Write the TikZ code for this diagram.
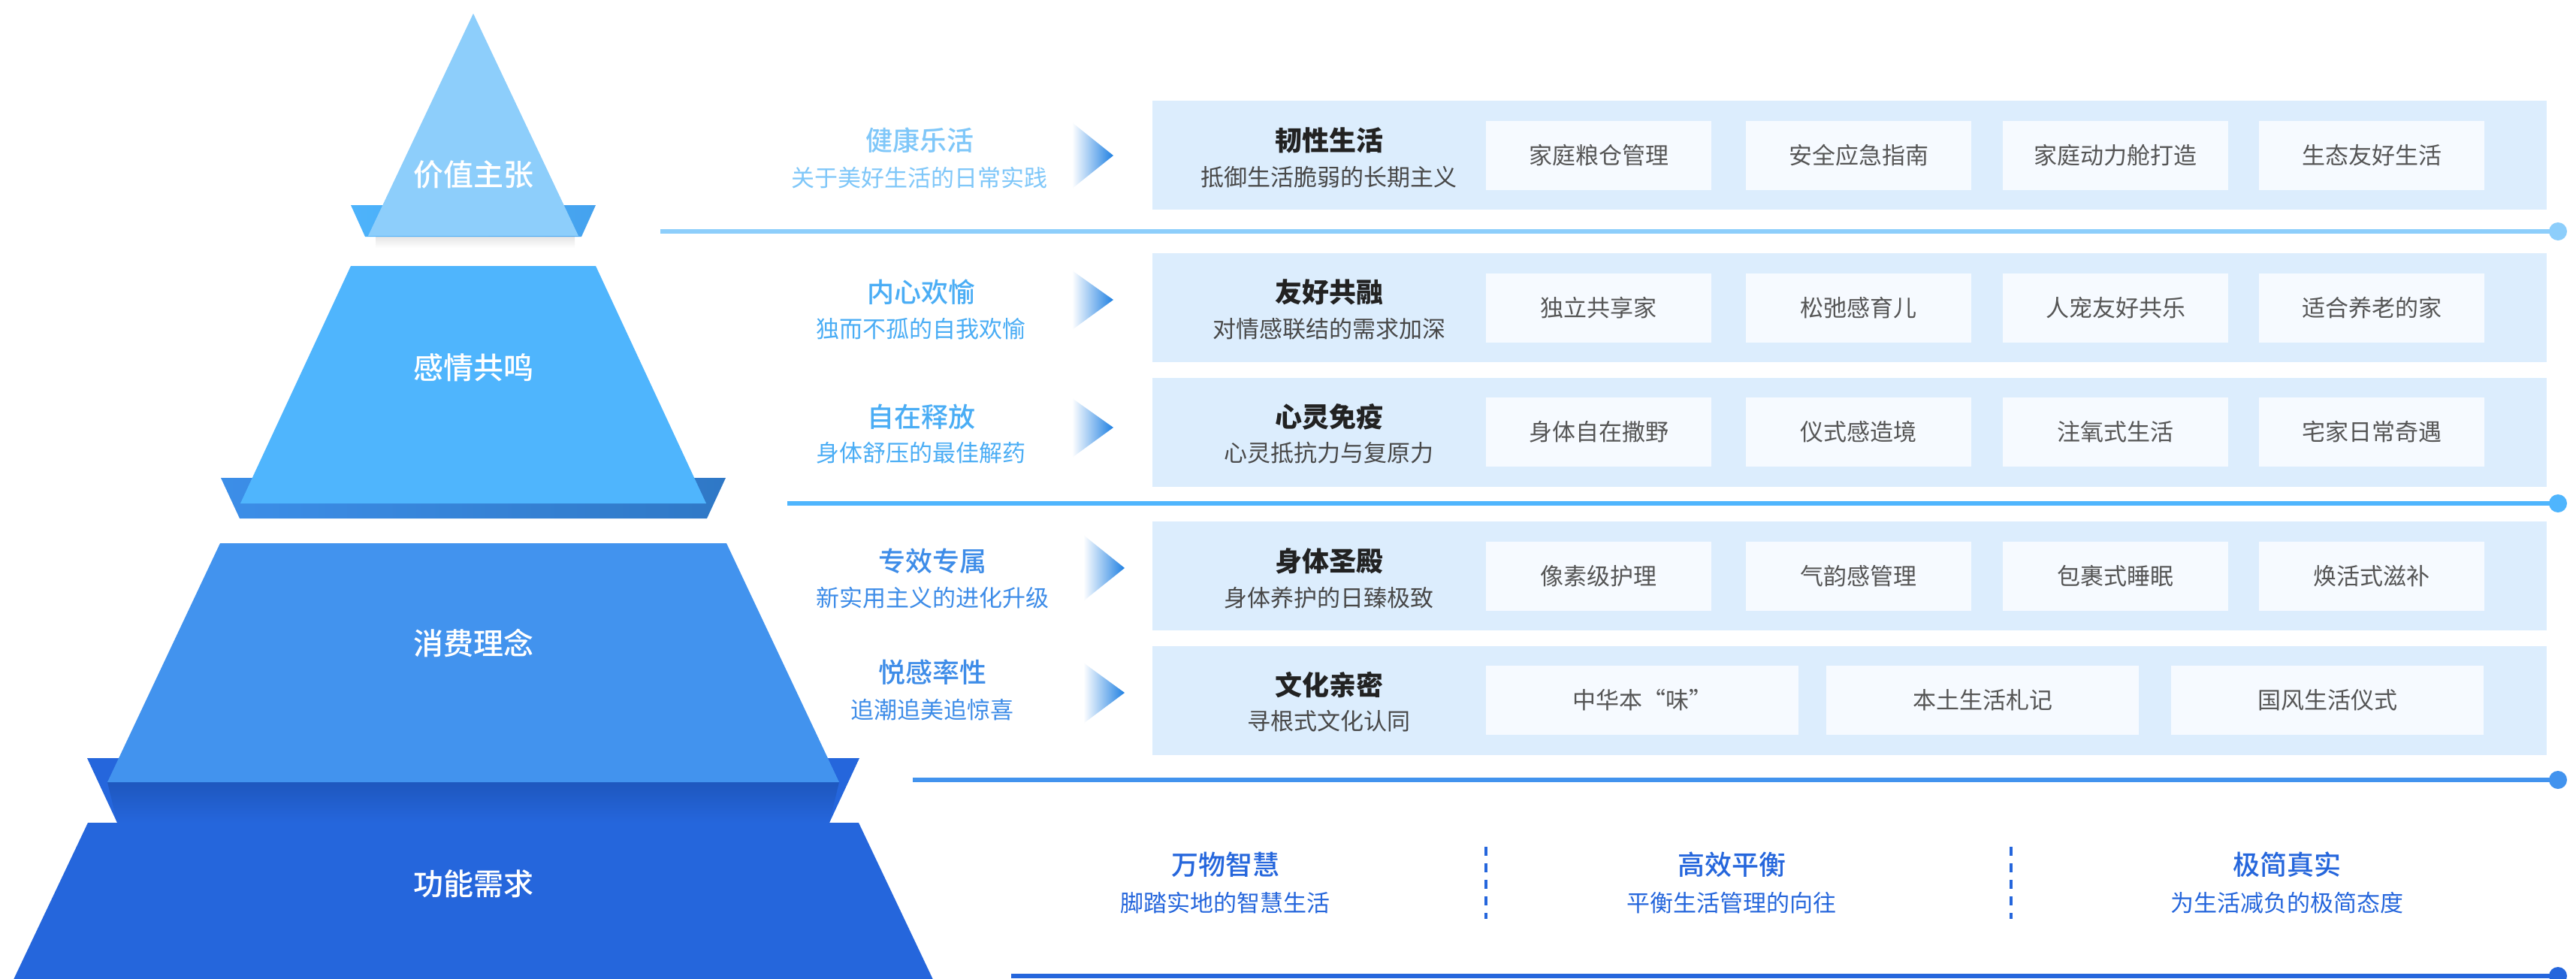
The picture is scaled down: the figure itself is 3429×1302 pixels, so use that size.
\documentclass[tikz,border=0pt]{standalone}
\usepackage{fontspec}
\setmainfont{Noto Sans CJK SC}
\newfontfamily\medfont{Noto Sans CJK SC Medium}
\definecolor{cA}{HTML}{8DCEFB}
\definecolor{cAt}{HTML}{7FC7F9}
\definecolor{cB}{HTML}{4FB5FD}
\definecolor{cBt}{HTML}{4AADF5}
\definecolor{cC}{HTML}{4293EE}
\definecolor{cCt}{HTML}{3D8CE8}
\definecolor{cD}{HTML}{2566DC}
\definecolor{trayA}{HTML}{4DB3FB}
\definecolor{trayAr}{HTML}{45A2EE}
\definecolor{trayB}{HTML}{3C8EE8}
\definecolor{trayBr}{HTML}{2F78C6}
\definecolor{shD}{HTML}{1E57BE}
\definecolor{boxbg}{HTML}{DCEDFD}
\definecolor{inbg}{HTML}{F6FAFF}
\definecolor{darktxt}{HTML}{222222}
\definecolor{subtxt}{HTML}{484848}
\definecolor{intxt}{HTML}{555555}
\definecolor{chev}{HTML}{1F80E2}
\tikzset{
  lvl/.style={text=white, font=\medfont\fontsize{40}{44}\selectfont, inner sep=0pt},
  ltitle/.style={font=\medfont\fontsize{36}{40}\selectfont, inner sep=0pt},
  lsub/.style={font=\fontsize{31}{34}\selectfont, inner sep=0pt},
  btitle/.style={text=darktxt, font=\bfseries\fontsize{36}{40}\selectfont, inner sep=0pt},
  bsub/.style={text=subtxt, font=\fontsize{31}{34}\selectfont, inner sep=0pt},
  rowbox/.style={fill=boxbg, draw=none, minimum width=1856pt, minimum height=145pt, inner sep=0pt},
  inbox/.style={fill=inbg, draw=none, text=intxt, font=\fontsize{31}{34}\selectfont, inner sep=0pt, minimum width=300pt, minimum height=92pt},
  wideinbox/.style={inbox, minimum width=416pt},
  enddot/.style={circle, fill=#1, minimum size=24pt, inner sep=0pt},
  sepline/.style={line width=6pt, draw=#1},
  divider/.style={draw=cD, line width=4pt, dash pattern=on 12pt off 10pt},
  chevshade/.style={left color=white, right color=chev},
}
\begin{document}
\begin{tikzpicture}[x=1pt, y=-1pt]
\useasboundingbox (0,0) rectangle (3429,1302);
\fill[white] (0,0) rectangle (3429,1302);

% ---------- pyramid ----------
% layer 4 (bottom)
\fill[cD] (117,1095) -- (1143,1095) -- (1245,1310) -- (15,1310) -- cycle;
% tray 3
\fill[cD] (116,1009) -- (1144,1009) -- (1104,1095) -- (156,1095) -- cycle;
\shade[top color=shD, bottom color=cD] (143,1041) -- (1117,1041) -- (1104,1095) -- (156,1095) -- cycle;
% layer 3
\fill[cC] (293,723) -- (967,723) -- (1117,1041) -- (143,1041) -- cycle;
% tray 2
\shade[left color=trayB, right color=trayBr] (294,636) -- (966,636) -- (941,690) -- (319,690) -- cycle;
% layer 2
\fill[cB] (467,354) -- (793,354) -- (940,670) -- (320,670) -- cycle;
% tray 1
\shade[top color=black!10, bottom color=white] (500,315) rectangle (765,330);
\shade[left color=trayA, right color=trayAr] (467,273) -- (793,273) -- (774,315) -- (486,315) -- cycle;
% top triangle
\fill[cA] (630,18) -- (770,314) -- (490,314) -- cycle;

\node[lvl] (p1) at (630,232) {价值主张};
\node[lvl] (p2) at (630,489) {感情共鸣};
\node[lvl] (p3) at (630,856) {消费理念};
\node[lvl] (p4) at (630,1176) {功能需求};

% ---------- separator lines ----------
\coordinate (l1s) at (879,308);
\node[enddot=cA] (l1e) at (3405,308) {};
\draw[sepline=cA] (l1s) -- (l1e.center);
\coordinate (l2s) at (1048,670);
\node[enddot=cB] (l2e) at (3405,670) {};
\draw[sepline=cB] (l2s) -- (l2e.center);
\coordinate (l3s) at (1215,1038);
\node[enddot=cC] (l3e) at (3405,1038) {};
\draw[sepline=cC] (l3s) -- (l3e.center);
\coordinate (l4s) at (1346,1299);
\node[enddot=cD] (l4e) at (3405,1299) {};
\draw[sepline=cD] (l4s) -- (l4e.center);

% ---------- row boxes ----------
\node[rowbox] (row1) at (2462,206.5) {};
\node[rowbox] (row2) at (2462,409.5) {};
\node[rowbox] (row3) at (2462,575) {};
\node[rowbox] (row4) at (2462,766) {};
\node[rowbox] (row5) at (2462,932) {};

% ---------- chevrons ----------
\shade[chevshade] (1427,163) -- (1482,207) -- (1427,251) -- cycle;
\shade[chevshade] (1427,360) -- (1482,399) -- (1427,439) -- cycle;
\shade[chevshade] (1427,530) -- (1482,569) -- (1427,609) -- cycle;
\shade[chevshade] (1442,712) -- (1497,756) -- (1442,800) -- cycle;
\shade[chevshade] (1442,882) -- (1497,922) -- (1442,963) -- cycle;

% ---------- left titles ----------
\node[ltitle, text=cAt] (t1) at (1224,187) {健康乐活};
\node[lsub, text=cAt] (s1) at (1224,237) {关于美好生活的日常实践};
\node[ltitle, text=cBt] (t2) at (1226,389) {内心欢愉};
\node[lsub, text=cBt] (s2) at (1226,438) {独而不孤的自我欢愉};
\node[ltitle, text=cBt] (t3) at (1226,555) {自在释放};
\node[lsub, text=cBt] (s3) at (1226,603) {身体舒压的最佳解药};
\node[ltitle, text=cCt] (t4) at (1241,747) {专效专属};
\node[lsub, text=cCt] (s4) at (1241,796) {新实用主义的进化升级};
\node[ltitle, text=cCt] (t5) at (1241,895) {悦感率性};
\node[lsub, text=cCt] (s5) at (1241,945) {追潮追美追惊喜};

% ---------- box titles ----------
\node[btitle] (b1) at (1769,187) {韧性生活};
\node[bsub] (bs1) at (1769,236) {抵御生活脆弱的长期主义};
\node[btitle] (b2) at (1769,389) {友好共融};
\node[bsub] (bs2) at (1769,438) {对情感联结的需求加深};
\node[btitle] (b3) at (1769,555) {心灵免疫};
\node[bsub] (bs3) at (1769,603) {心灵抵抗力与复原力};
\node[btitle] (b4) at (1769,747) {身体圣殿};
\node[bsub] (bs4) at (1769,796) {身体养护的日臻极致};
\node[btitle] (b5) at (1769,912) {文化亲密};
\node[bsub] (bs5) at (1769,960) {寻根式文化认同};

% ---------- inner boxes ----------
\node[inbox] (r1a) at (2128,207) {家庭粮仓管理};
\node[inbox] (r1b) at (2474,207) {安全应急指南};
\node[inbox] (r1c) at (2816,207) {家庭动力舱打造};
\node[inbox] (r1d) at (3157,207) {生态友好生活};

\node[inbox] (r2a) at (2128,409.5) {独立共享家};
\node[inbox] (r2b) at (2474,409.5) {松弛感育儿};
\node[inbox] (r2c) at (2816,409.5) {人宠友好共乐};
\node[inbox] (r2d) at (3157,409.5) {适合养老的家};

\node[inbox] (r3a) at (2128,575) {身体自在撒野};
\node[inbox] (r3b) at (2474,575) {仪式感造境};
\node[inbox] (r3c) at (2816,575) {注氧式生活};
\node[inbox] (r3d) at (3157,575) {宅家日常奇遇};

\node[inbox] (r4a) at (2128,767) {像素级护理};
\node[inbox] (r4b) at (2474,767) {气韵感管理};
\node[inbox] (r4c) at (2816,767) {包裹式睡眠};
\node[inbox] (r4d) at (3157,767) {焕活式滋补};

\node[wideinbox] (r5a) at (2186,932) {中华本“味”};
\node[wideinbox] (r5b) at (2639,932) {本土生活札记};
\node[wideinbox] (r5c) at (3098,932) {国风生活仪式};

% ---------- bottom row ----------
\node[ltitle, text=cD] (f1) at (1631,1151) {万物智慧};
\node[lsub, text=cD] (fs1) at (1631,1202) {脚踏实地的智慧生活};
\node[ltitle, text=cD] (f2) at (2305,1151) {高效平衡};
\node[lsub, text=cD] (fs2) at (2305,1202) {平衡生活管理的向往};
\node[ltitle, text=cD] (f3) at (3044,1151) {极简真实};
\node[lsub, text=cD] (fs3) at (3044,1202) {为生活减负的极简态度};

\coordinate (d1t) at (1978,1127);
\coordinate (d1b) at (1978,1223);
\draw[divider] (d1t) -- (d1b);
\coordinate (d2t) at (2677,1127);
\coordinate (d2b) at (2677,1223);
\draw[divider] (d2t) -- (d2b);
\end{tikzpicture}
\end{document}
